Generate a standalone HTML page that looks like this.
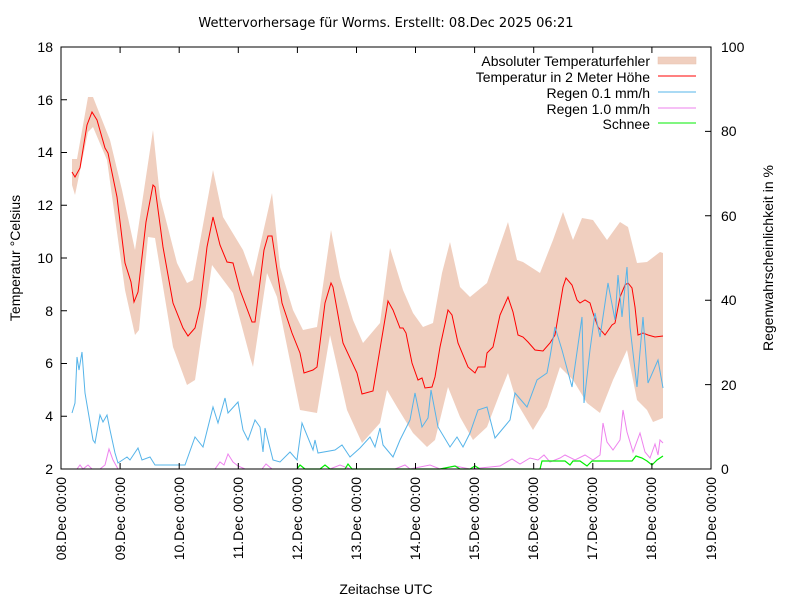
<!DOCTYPE html>
<html><head><meta charset="utf-8"><style>body{margin:0;background:#fff}svg{display:block}text{font-family:"Liberation Sans",sans-serif;fill:#000}</style></head><body>
<svg width="800" height="600" viewBox="0 0 800 600" xmlns="http://www.w3.org/2000/svg">
<text x="386" y="27" font-size="13" text-anchor="middle" style="font-family:'DejaVu Sans',sans-serif">Wettervorhersage für Worms. Erstellt: 08.Dec 2025 06:21</text>
<polygon fill="#f0cfbf" points="72,159 77,159 88,97 93,97 110,140 122,190 135,250 153,130 160,197 177,263 187,283 193,280 213,170 223,217 243,250 253,277 272,193 280,267 293,310 303,330 317,327 331,230 340,277 353,320 363,343 380,323 390,248 403,290 413,313 423,327 433,323 442,273 450,242 460,287 470,297 487,283 508,222 517,260 523,262 540,273 553,240 563,212 573,240 582,218 593,220 607,240 620,222 628,227 637,263 647,262 660,252 663,253 663,418 653,422 647,410 637,400 627,350 613,380 600,413 587,403 573,380 560,367 547,407 533,430 517,403 508,373 500,393 487,427 473,440 460,417 448,387 435,440 427,447 413,433 397,407 387,390 380,423 362,443 347,410 330,335 317,413 300,410 277,297 267,273 253,367 250,357 233,293 212,265 195,380 187,385 173,347 155,238 148,237 139,330 135,335 125,290 107,160 93,127 88,132 75,195 72,185"/>
<polyline fill="none" stroke="#ff0000" stroke-width="1" points="72,172 75,177 80,168 87,125 92,112 97,120 105,148 108,153 117,197 125,263 131,282 134,302 138,292 146,222 153,185 155,187 163,247 173,303 183,328 188,336 195,328 200,307 207,247 213,217 220,245 227,262 233,263 240,290 252,322 255,322 264,250 268,236 272,236 282,303 292,333 300,353 304,373 313,370 317,367 325,303 331,283 333,287 343,343 357,373 362,394 373,391 382,337 388,301 393,310 400,328 403,328 406,333 412,363 418,380 422,378 425,388 432,387 435,377 440,347 448,310 452,315 458,343 468,367 475,373 478,367 485,367 487,353 493,347 500,315 508,297 513,312 518,335 523,337 528,342 535,350 543,351 550,343 555,335 563,287 566,278 572,285 577,300 580,303 585,300 590,303 593,313 598,327 605,335 612,325 615,323 620,297 625,285 628,283 632,288 635,307 638,335 643,333 648,335 655,337 663,336"/>
<polyline fill="none" stroke="#56b4e9" stroke-width="1" points="72,413 75,403 77,357 79,370 82,352 85,393 93,440 95,443 100,415 103,422 107,415 110,430 115,453 118,463 127,457 130,460 138,448 142,460 150,457 155,465 185,465 195,437 203,447 213,407 218,423 225,398 228,413 238,402 243,430 248,440 255,420 260,427 263,452 265,428 273,460 280,462 290,452 297,460 302,423 313,450 315,440 318,453 335,450 342,445 350,457 360,448 370,437 375,447 380,428 383,445 393,457 400,440 410,420 415,393 422,427 428,418 431,390 438,427 450,447 457,437 463,447 470,433 478,410 487,407 495,438 510,420 515,393 527,407 537,380 547,373 550,357 555,327 562,350 572,387 582,317 584,403 590,350 595,313 600,337 608,283 615,320 618,275 622,317 627,267 630,327 637,387 643,317 648,383 658,360 663,388"/>
<polyline fill="none" stroke="#ee82ee" stroke-width="1" points="77,469 80,465 83,469 88,465 92,469 100,469 105,465 109,449 113,460 118,469 160,469 215,469 220,462 224,465 228,454 233,462 238,466 245,469 262,469 266,464 272,469 300,469 330,469 340,465 350,469 395,469 405,465 410,469 430,465 440,469 455,466 470,469 500,466 512,459 520,464 530,458 538,460 544,455 550,462 560,458 565,455 575,460 585,455 593,460 600,455 603,423 607,442 613,450 620,440 623,410 627,432 633,452 640,433 645,452 650,458 655,444 658,455 660,440 663,443"/>
<polyline fill="none" stroke="#00ee00" stroke-width="1.2" points="297,469 300,465 305,469 320,469 325,465 330,469 345,469 348,464 352,469 398,469 420,469 440,469 455,466 460,469 470,469 475,466 480,469 540,469 542,461 560,461 565,461 570,465 573,461 580,461 587,466 592,461 632,461 636,456 642,458 647,461 652,465 657,460 663,456"/>
<g stroke="#000" stroke-width="1" fill="none">
<rect x="61" y="47" width="650" height="422"/>
<path d="M61,469h6M61,416.25h6M61,363.5h6M61,310.75h6M61,258h6M61,205.25h6M61,152.5h6M61,99.75h6M61,47h6"/>
<path d="M711,469h-6M711,384.6h-6M711,300.2h-6M711,215.8h-6M711,131.4h-6M711,47h-6"/>
<path d="M120.1,469v-6M179.2,469v-6M238.3,469v-6M297.4,469v-6M356.5,469v-6M415.5,469v-6M474.6,469v-6M533.7,469v-6M592.8,469v-6M651.9,469v-6M120.1,47v6M179.2,47v6M238.3,47v6M297.4,47v6M356.5,47v6M415.5,47v6M474.6,47v6M533.7,47v6M592.8,47v6M651.9,47v6"/>
</g>
<g font-size="14" text-anchor="end">
<text x="53" y="474">2</text><text x="53" y="421">4</text><text x="53" y="368">6</text><text x="53" y="316">8</text><text x="53" y="263">10</text><text x="53" y="210">12</text><text x="53" y="157">14</text><text x="53" y="105">16</text><text x="53" y="52">18</text>
</g>
<g font-size="14" text-anchor="start">
<text x="721" y="474">0</text><text x="721" y="390">20</text><text x="721" y="305">40</text><text x="721" y="221">60</text><text x="721" y="136">80</text><text x="721" y="52">100</text>
</g>
<g font-size="14" text-anchor="end">
<text transform="translate(66,477) rotate(-90)">08.Dec 00:00</text>
<text transform="translate(125,477) rotate(-90)">09.Dec 00:00</text>
<text transform="translate(184,477) rotate(-90)">10.Dec 00:00</text>
<text transform="translate(243,477) rotate(-90)">11.Dec 00:00</text>
<text transform="translate(302,477) rotate(-90)">12.Dec 00:00</text>
<text transform="translate(361,477) rotate(-90)">13.Dec 00:00</text>
<text transform="translate(420,477) rotate(-90)">14.Dec 00:00</text>
<text transform="translate(479,477) rotate(-90)">15.Dec 00:00</text>
<text transform="translate(538,477) rotate(-90)">16.Dec 00:00</text>
<text transform="translate(597,477) rotate(-90)">17.Dec 00:00</text>
<text transform="translate(656,477) rotate(-90)">18.Dec 00:00</text>
<text transform="translate(716,477) rotate(-90)">19.Dec 00:00</text>
</g>
<text x="386" y="594" font-size="14" text-anchor="middle">Zeitachse UTC</text>
<text transform="translate(20,258) rotate(-90)" font-size="14" text-anchor="middle">Temperatur °Celsius</text>
<text transform="translate(773,258) rotate(-90)" font-size="14" text-anchor="middle">Regenwahrscheinlichkeit in %</text>
<g font-size="14" text-anchor="end">
<text x="650" y="66">Absoluter Temperaturfehler</text>
<text x="650" y="82">Temperatur in 2 Meter Höhe</text>
<text x="650" y="98">Regen 0.1 mm/h</text>
<text x="650" y="114">Regen 1.0 mm/h</text>
<text x="650" y="129">Schnee</text>
</g>
<rect x="658" y="57" width="38" height="7" fill="#f0cfbf" stroke="#e8c0ae" stroke-width="0.5"/>
<path d="M658,76h38" stroke="#ff0000"/>
<path d="M658,92h38" stroke="#56b4e9"/>
<path d="M658,108h38" stroke="#ee82ee"/>
<path d="M658,123h38" stroke="#00ee00"/>
</svg>
</body></html>
